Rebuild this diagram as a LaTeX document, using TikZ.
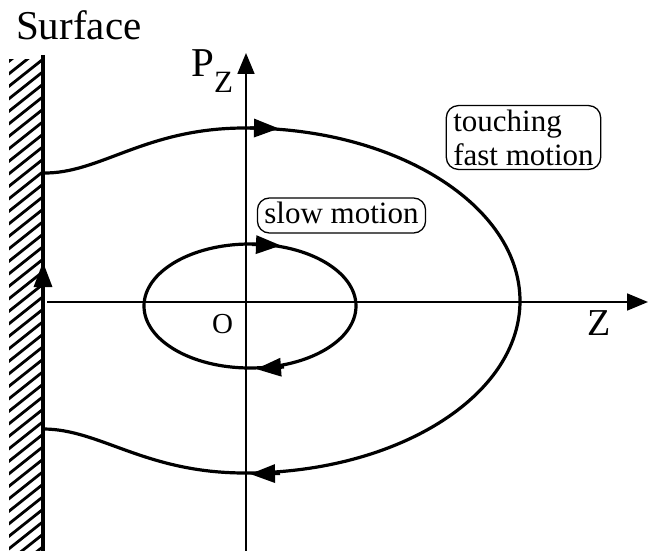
\documentclass[tikz,border=0pt]{standalone}
\usepackage{fontspec}
\setmainfont{Liberation Serif}
\usetikzlibrary{arrows.meta}
\begin{document}
\begin{tikzpicture}[x=1pt,y=-1pt,
  axis/.style={line width=1.8pt},
  orbit/.style={line width=3.2pt},
  wall/.style={line width=3.6pt},
  hatchline/.style={line width=2.8pt},
  axtip/.style={-{Triangle[length=21pt,width=17pt]}},
  orbtip/.style={-{Triangle[length=25pt,width=18pt]}},
  lblbase/.style={draw, line width=1.3pt, rounded corners=12pt, font=\fontsize{31}{34}\selectfont, inner xsep=7pt},
  lbl/.style={lblbase, text height=22pt, text depth=6pt, inner ysep=3.5pt},
  lblmulti/.style={lblbase, align=left, inner ysep=4pt},
  txt/.style={inner sep=0pt, anchor=base west}
]
\useasboundingbox (0,0) rectangle (649,551);
% hatching
\begin{scope}
  \clip (9,60) rectangle (41,551);
  \foreach \y in {62,74.5,...,620}{
    \draw[hatchline] (8,\y) -- (42,\y-27);
  }
\end{scope}
\coordinate (wtop) at (43,55);
\coordinate (wbot) at (43,551);
\draw[wall] (wtop) -- (wbot);
% axes
\coordinate (zs) at (47,302);
\coordinate (ze) at (648,302);
\coordinate (ps) at (246,551);
\coordinate (pe) at (246,53);
\draw[axis, axtip] (zs) -- (ze);
\draw[axis, axtip] (ps) -- (pe);
% inner orbit
\draw[orbit] (250,306) ellipse [x radius=106, y radius=62];
\draw[orbit, orbtip] (252,244.5) -- (281,245.5);
\draw[orbit, orbtip] (284,367) -- (256,369);
% outer orbit
\coordinate (wa) at (43,173);
\coordinate (wb) at (43,429);
\draw[orbit] (wa) .. controls (100,174) and (145,128) .. (245,128)
  .. controls (397,128) and (520,206) .. (520,301)
  .. controls (520,396) and (397,473) .. (245,473)
  .. controls (145,473) and (100,429) .. (wb);
\draw[orbit, orbtip] (250,128) -- (279,128.5);
\draw[orbit, orbtip] (280,473.5) -- (250,474);
\draw[orbit, orbtip] (43,290) -- (43,262);
% labels
\node[txt, font=\fontsize{41}{41}\selectfont] (surf) at (16,40) {Surface};
\node[txt, font=\fontsize{41}{41}\selectfont] (pz) at (191,77) {P\raisebox{-16pt}{\fontsize{31}{31}\selectfont Z}};
\node[txt, font=\fontsize{29}{29}\selectfont] (o) at (212,333) {O};
\node[txt, font=\fontsize{38}{38}\selectfont] (z) at (587,335) {Z};
\node[lbl] (slow) at (341.5,215.5) {slow motion};
\node[lblmulti] (fast) at (523.5,137.5) {touching\\fast motion};
\end{tikzpicture}
\end{document}
